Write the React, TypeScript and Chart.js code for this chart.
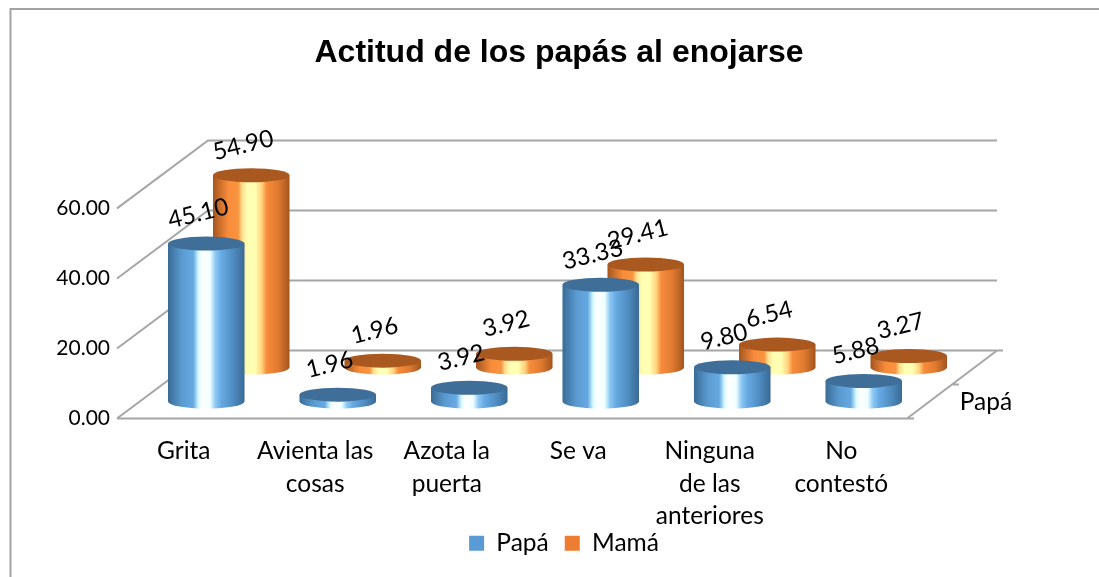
import React, { useEffect, useRef } from "react";
import { Chart, registerables } from "chart.js";

Chart.register(...registerables);

const categories: (string | string[])[] = [
  "Grita",
  ["Avienta las", "cosas"],
  ["Azota la", "puerta"],
  "Se va",
  ["Ninguna", "de las", "anteriores"],
  ["No", "contestó"],
];
const papa = [45.1, 1.96, 3.92, 33.33, 9.8, 5.88];
const mama = [54.9, 1.96, 3.92, 29.41, 6.54, 3.27];
const yTicks = { min: 0, max: 60, step: 20 };
const depthLabel = "Papá";
const chartTitle = "Actitud de los papás al enojarse";

const FONT = "Lato, Carlito, sans-serif";
const DEPTH_X = 90;
const DEPTH_Y = -68;
const RY = 7;
const LINE = "#a6a6a6";

const depthFractions = [0.25, 0.75];
const palettes = [
  {
    cap: "#3f6f98",
    stops: [
      [0, "#3a6c96"], [0.18, "#5a9ad0"], [0.33, "#66a9e2"], [0.4, "#d8faff"],
      [0.45, "#ffffff"], [0.55, "#f0ffff"], [0.62, "#8cc8f4"], [0.7, "#66a9e2"], [0.85, "#4f8dc2"], [1, "#3a6a94"],
    ],
  },
  {
    cap: "#a9581f",
    stops: [
      [0, "#a4561e"], [0.2, "#f88c3c"], [0.33, "#f8953f"], [0.38, "#ffe090"],
      [0.45, "#ffffb4"], [0.55, "#ffffb4"], [0.64, "#ffd27c"], [0.7, "#f88c3c"], [0.85, "#e07a30"], [1, "#a2551e"],
    ],
  },
];

const scene = {
  id: "scene",
  afterLayout(chart: any) {
    const lg = chart.legend;
    const h = lg.bottom - lg.top;
    lg.top = 515;
    lg.bottom = 515 + h;
    lg.left += 5;
    lg.right += 5;
  },
  beforeDraw(chart: any) {
    const c = chart.ctx;
    c.save();
    c.fillStyle = "#fff";
    c.fillRect(0, 0, chart.width, chart.height);
    c.strokeStyle = "#a3a3a3";
    c.lineWidth = 2;
    c.beginPath();
    c.moveTo(10.5, chart.height);
    c.lineTo(10.5, 9);
    c.lineTo(chart.width, 9);
    c.stroke();
    c.restore();
  },
  beforeDatasetsDraw(chart: any) {
    const c = chart.ctx;
    const y = chart.scales.y;
    const { left, right } = chart.chartArea;
    c.save();
    c.strokeStyle = LINE;
    c.lineWidth = 2;
    y.ticks.forEach((t: any) => {
      const py = y.getPixelForValue(t.value);
      c.beginPath();
      c.moveTo(left - 1, py);
      c.lineTo(left + DEPTH_X, py + DEPTH_Y);
      c.lineTo(right + DEPTH_X + (t.value === 0 ? 6 : 0), py + DEPTH_Y);
      c.stroke();
    });
    const base = y.getPixelForValue(0);
    c.beginPath();
    c.moveTo(left - 1, base);
    c.lineTo(right + 7, base);
    c.moveTo(right, base);
    c.lineTo(right + DEPTH_X, base + DEPTH_Y);
    c.moveTo(right + DEPTH_X / 2, base + DEPTH_Y / 2);
    c.lineTo(right + DEPTH_X / 2 + 7, base + DEPTH_Y / 2);
    c.stroke();
    c.fillStyle = "#000";
    c.font = `24.5px ${FONT}`;
    c.textAlign = "center";
    c.textBaseline = "middle";
    c.fillText(depthLabel, right + 79, base - 16);
    c.restore();
  },
  beforeDatasetDraw(chart: any, args: any) {
    const c = chart.ctx;
    const i = args.index;
    const pal = palettes[i];
    const f = depthFractions[i];
    const dx = DEPTH_X * f;
    const dy = DEPTH_Y * f;
    args.meta.data.forEach((bar: any) => {
      const p = bar.getProps(["x", "y", "base", "width"], true);
      const cx = p.x + dx;
      const top = p.y + dy;
      const bot = p.base + dy;
      const r = p.width / 2;
      const g = c.createLinearGradient(cx - r, 0, cx + r, 0);
      pal.stops.forEach((s: any) => g.addColorStop(s[0], s[1]));
      c.save();
      c.fillStyle = g;
      c.beginPath();
      c.moveTo(cx - r, top);
      c.lineTo(cx - r, bot);
      c.ellipse(cx, bot, r, RY, 0, Math.PI, 0, true);
      c.lineTo(cx + r, top);
      c.closePath();
      c.fill();
      c.fillStyle = pal.cap;
      c.beginPath();
      c.ellipse(cx, top, r, RY, 0, 0, Math.PI * 2);
      c.fill();
      c.restore();
    });
    return false;
  },
  afterDatasetsDraw(chart: any) {
    const c = chart.ctx;
    chart.data.datasets.forEach((ds: any, i: number) => {
      const f = depthFractions[i];
      chart.getDatasetMeta(i).data.forEach((bar: any, j: number) => {
        const p = bar.getProps(["x", "y"], true);
        c.save();
        c.translate(p.x + DEPTH_X * f - 8, p.y + DEPTH_Y * f - 30);
        c.rotate((-14 * Math.PI) / 180);
        c.fillStyle = "#000";
        c.font = `24px ${FONT}`;
        c.textAlign = "center";
        c.textBaseline = "middle";
        c.fillText(ds.data[j].toFixed(2), 0, 0);
        c.restore();
      });
    });
  },
};

export default function App() {
  const ref = useRef<HTMLCanvasElement>(null);
  useEffect(() => {
    const chart = new Chart(ref.current as HTMLCanvasElement, {
      type: "bar",
      data: {
        labels: categories as any,
        datasets: [
          { label: "Papá", data: papa, backgroundColor: "#5b9bd5", grouped: false, categoryPercentage: 1, barPercentage: 0.582 } as any,
          { label: "Mamá", data: mama, backgroundColor: "#ed7d31", grouped: false, categoryPercentage: 1, barPercentage: 0.582 } as any,
        ],
      },
      plugins: [scene],
      options: {
        responsive: false,
        animation: false,
        layout: { padding: { left: 19, right: 0, top: 0, bottom: -7 } },
        plugins: {
          title: {
            display: true,
            text: chartTitle,
            color: "#000",
            font: { family: "'Liberation Sans', Arial, sans-serif", size: 32, weight: "bold", lineHeight: 1.2 },
            padding: { top: 34, bottom: 136 },
          },
          legend: {
            position: "bottom",
            labels: { color: "#000", boxWidth: 15, boxHeight: 15, padding: 16, font: { family: FONT, size: 24.5 } },
          },
          tooltip: { enabled: false },
        },
        scales: {
          x: {
            grid: { display: false },
            border: { display: false },
            afterFit: (s: any) => { s.height = 115; },
            ticks: {
              color: "#000",
              autoSkip: false,
              maxRotation: 0,
              minRotation: 0,
              padding: 8,
              font: { family: FONT, size: 24.5, lineHeight: 1.34 },
            },
          },
          y: {
            min: yTicks.min,
            max: yTicks.max,
            grid: { display: false, drawTicks: false },
            border: { display: false },
            afterFit: (s: any) => { s.width = 99; },
            ticks: {
              stepSize: yTicks.step,
              color: "#000",
              padding: 8,
              font: { family: FONT, size: 21 },
              callback: (v: any) => Number(v).toFixed(2),
            },
          },
          rightSpace: {
            type: "linear",
            position: "right",
            grid: { display: false },
            border: { display: false },
            ticks: { display: false },
            afterFit: (s: any) => { s.width = 192; },
          },
        },
      } as any,
    });
    return () => chart.destroy();
  }, []);
  return (
    <canvas
      ref={ref}
      width={1099}
      height={577}
      style={{ position: "absolute", left: 0, top: 0, display: "block" }}
    />
  );
}
